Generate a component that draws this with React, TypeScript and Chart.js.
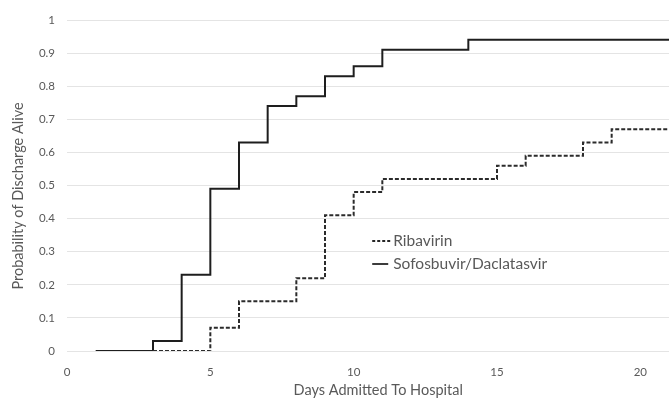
import React, { useEffect, useRef } from "react";
import { Chart, registerables } from "chart.js";

Chart.register(...registerables);

const sofDays = [1, 3, 4, 5, 6, 7, 8, 9, 10, 11, 14, 21];
const sofProb = [0, 0.03, 0.23, 0.49, 0.63, 0.74, 0.77, 0.83, 0.86, 0.91, 0.94, 0.94];
const ribDays = [3, 5, 6, 8, 9, 10, 11, 15, 16, 18, 19, 21];
const ribProb = [0, 0.07, 0.15, 0.22, 0.41, 0.48, 0.52, 0.56, 0.59, 0.63, 0.67, 0.67];
const seriesNames = ["Ribavirin", "Sofosbuvir/Daclatasvir"];
const xTitle = "Days Admitted To Hospital";
const yTitle = "Probability of Discharge Alive";

const FONT = "Lato, 'Open Sans', sans-serif";
const TEXT = "#595959";

const decorPlugin = {
  id: "decor",
  afterDraw(chart: any) {
    const { ctx, chartArea } = chart;
    const w = chartArea.right - chartArea.left;
    const x0 = chartArea.left + w * 0.507;
    const items = [
      { name: seriesNames[0], dash: [3, 2], y: 241, len: 18 },
      { name: seriesNames[1], dash: [], y: 264, len: 16 },
    ];
    ctx.save();
    items.forEach((it) => {
      ctx.beginPath();
      ctx.setLineDash(it.dash);
      ctx.lineWidth = 1.8;
      ctx.strokeStyle = "#262626";
      ctx.moveTo(x0, it.y);
      ctx.lineTo(x0 + it.len, it.y);
      ctx.stroke();
      ctx.setLineDash([]);
      ctx.fillStyle = TEXT;
      ctx.font = `15.5px ${FONT}`;
      ctx.textBaseline = "middle";
      ctx.textAlign = "left";
      ctx.fillText(it.name, x0 + 21, it.y);
    });
    // axis titles
    ctx.font = `14.5px ${FONT}`;
    ctx.fillStyle = TEXT;
    ctx.textAlign = "center";
    ctx.textBaseline = "middle";
    ctx.fillText(xTitle, chartArea.left + w * 0.517, 390);
    ctx.translate(18, 196);
    ctx.rotate(-Math.PI / 2);
    ctx.fillText(yTitle, 0, 0);
    ctx.restore();
  },
};

export default function App() {
  const ref = useRef<HTMLCanvasElement>(null);
  useEffect(() => {
    document.body.style.margin = "0";
    const chart = new Chart(ref.current!, {
      type: "line",
      data: {
        datasets: [
          {
            label: seriesNames[0],
            data: ribDays.map((d, i) => ({ x: d, y: ribProb[i] })),
            stepped: "before",
            borderColor: "#2b2b2b",
            borderWidth: 2,
            borderDash: [4, 2],
            pointRadius: 0,
            fill: false,
          },
          {
            label: seriesNames[1],
            data: sofDays.map((d, i) => ({ x: d, y: sofProb[i] })),
            stepped: "before",
            borderColor: "#1e1e1e",
            borderWidth: 2,
            pointRadius: 0,
            fill: false,
          },
        ],
      },
      options: {
        responsive: false,
        animation: false,
        layout: { padding: { top: 20, right: 2, left: 0, bottom: 0 } },
        plugins: { legend: { display: false }, tooltip: { enabled: false } },
        scales: {
          x: {
            type: "linear",
            min: 0,
            max: 21,
            grid: { display: false },
            border: { display: false },
            afterBuildTicks(scale: any) {
              scale.ticks = scale.ticks.filter((t: any) => t.value % 5 === 0);
            },
            ticks: {
              stepSize: 5,
              color: TEXT,
              font: { family: FONT, size: 11.5 },
              padding: 6,
            },
            afterFit(scale: any) {
              scale.height = 47;
            },
          },
          y: {
            min: 0,
            max: 1,
            grid: { color: "#e4e4e4", lineWidth: 1, drawTicks: false },
            border: { display: false },
            ticks: {
              stepSize: 0.1,
              color: TEXT,
              font: { family: FONT, size: 11.5 },
              padding: 12,
              callback: (v: any) => String(Math.round(Number(v) * 10) / 10),
            },
            afterFit(scale: any) {
              scale.width = 67;
            },
          },
        },
      },
      plugins: [decorPlugin],
    } as any);
    return () => chart.destroy();
  }, []);
  return <canvas ref={ref} width={671} height={398} style={{ display: "block" }} />;
}
